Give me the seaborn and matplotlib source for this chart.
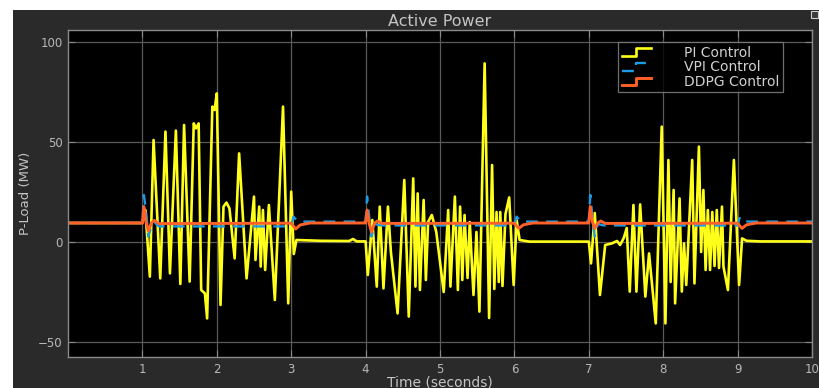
import matplotlib
matplotlib.use("Agg")
import matplotlib.pyplot as plt
import seaborn as sns
from matplotlib.lines import Line2D
from matplotlib.legend_handler import HandlerLine2D
from matplotlib.patches import Rectangle

# Active power at the load for three controllers (time in s, power in MW)
pi_t = [0.00, 1.00, 1.04, 1.10, 1.15, 1.24, 1.31, 1.37, 1.45, 1.51, 1.56, 1.635,
        1.69, 1.72, 1.756, 1.79, 1.84, 1.87, 1.94, 1.97, 2.00, 2.05, 2.09, 2.13,
        2.17, 2.24, 2.30, 2.40, 2.50, 2.52, 2.57, 2.59, 2.62, 2.65, 2.70, 2.78,
        2.89, 2.96, 3.00, 3.035, 3.07, 3.40, 3.78, 3.83, 3.88, 4.00,
        4.03, 4.09, 4.15, 4.19, 4.24, 4.30, 4.34, 4.43, 4.52, 4.58, 4.64, 4.67,
        4.70, 4.73, 4.78, 4.81, 4.84, 4.89, 4.95, 5.05, 5.11, 5.14, 5.20, 5.24,
        5.27, 5.30, 5.33, 5.37, 5.40, 5.45, 5.49, 5.53, 5.60, 5.66, 5.70, 5.73,
        5.76, 5.79, 5.81, 5.84, 5.88, 5.93, 5.99, 6.03, 6.07, 6.20, 6.60, 7.00,
        7.03, 7.08, 7.15, 7.22, 7.31, 7.38, 7.42, 7.47, 7.51, 7.55, 7.60, 7.64,
        7.69, 7.76, 7.81, 7.90, 7.98, 8.03, 8.07, 8.10, 8.14, 8.16, 8.22, 8.25,
        8.28, 8.31, 8.39, 8.42, 8.48, 8.51, 8.54, 8.57, 8.60, 8.63, 8.66, 8.69,
        8.72, 8.75, 8.79, 8.81, 8.87, 8.95, 9.02, 9.06, 9.12, 9.30, 10.00]
pi_p = [9.5, 9.5, 16.0, -17.3, 51.0, -18.2, 55.2, -15.7, 55.7, -21.0, 58.5, -19.8,
        59.3, 56.8, 59.3, -24.0, -25.7, -38.2, 67.7, 66.0, 74.3, -31.5, 17.7, 19.7,
        16.8, -8.2, 44.3, -18.2, 22.7, -9.0, 17.7, -12.3, 16.0, -14.0, 18.5, -29.0,
        67.7, -30.7, 25.2, -6.0, 1.0, 0.6, 0.5, 1.5, 0.3, 0.3,
        -16.5, 11.0, -22.3, 17.7, -23.2, 17.7, -5.0, -35.7, 31.0, -37.3, 31.8, -22.3,
        24.3, -24.0, 21.0, -19.0, 10.0, 13.5, 5.0, -25.0, 16.0, -22.3, 22.7, -24.0,
        17.7, -19.0, 13.5, -18.0, 10.0, -26.5, 5.0, -34.8, 89.3, -38.0, 38.5, -23.5,
        15.0, -20.0, 15.0, -22.0, 14.0, 22.3, -21.5, 11.0, 1.0, 0.2, 0.2, 0.2,
        -10.7, 14.5, -26.5, -1.5, -0.7, 0.5, -1.5, 2.0, 7.0, -24.8, 18.5, -24.8,
        18.8, -27.3, -5.7, -40.7, 57.7, -40.7, 41.0, -20.0, 26.0, -30.7, 21.8, -24.8,
        -0.7, -21.5, 41.0, -20.7, 47.7, -5.0, 26.0, -14.0, 16.0, -14.0, 15.0, -12.0,
        16.0, -13.0, 17.7, -12.3, -24.0, 41.0, -21.5, 1.8, 0.6, 0.3, 0.3]

vpi_t = [0.00, 1.00, 1.02, 1.05, 1.08, 1.12, 1.16, 1.22, 3.00, 3.03, 3.08, 3.15,
         4.00, 4.02, 4.05, 4.08, 4.12, 4.20, 6.00, 6.03, 6.08, 6.15, 7.00, 7.02,
         7.05, 7.08, 7.12, 7.20, 9.00, 9.03, 9.08, 9.15, 10.00]
vpi_p = [9.5, 9.5, 23.5, 15.0, 2.7, 8.0, 10.0, 7.8, 7.8, 12.7, 10.5, 10.2,
         10.2, 22.7, 12.0, 2.7, 9.0, 8.3, 8.3, 12.7, 10.5, 10.2, 10.2, 23.5,
         12.0, 2.7, 9.0, 8.3, 8.3, 12.5, 10.5, 10.2, 10.2]

ddpg_t = [0.00, 1.00, 1.02, 1.05, 1.08, 1.12, 1.16, 1.22, 3.00, 3.03, 3.06, 3.12,
          3.25, 4.00, 4.02, 4.05, 4.08, 4.12, 4.16, 4.22, 6.00, 6.03, 6.06, 6.12,
          6.25, 7.00, 7.02, 7.05, 7.08, 7.12, 7.16, 7.22, 9.00, 9.03, 9.06, 9.12,
          9.25, 10.00]
ddpg_p = [9.5, 9.5, 17.7, 10.0, 5.5, 9.5, 10.8, 9.2, 9.4, 8.0, 6.5, 8.5,
          9.5, 9.5, 16.0, 9.0, 5.0, 9.5, 10.5, 9.3, 9.4, 8.0, 6.8, 8.6,
          9.5, 9.5, 17.7, 10.0, 6.8, 9.5, 10.5, 9.3, 9.4, 8.0, 6.8, 8.6,
          9.5, 9.5]

series = ["PI Control", "VPI Control", "DDPG Control"]
colors = ["#ffff1a", "#1e9be6", "#ff6128"]
x_ticks = [1, 2, 3, 4, 5, 6, 7, 8, 9, 10]
y_ticks = [-50, 0, 50, 100]

FONT = ["DejaVu Sans"]
TXT = "#c4c4c4"


class StepLine(HandlerLine2D):
    """Legend key drawn as a small rising step."""

    def create_artists(self, legend, orig_handle, xdescent, ydescent,
                       width, height, fontsize, trans):
        x0 = -xdescent
        x1 = x0 + width
        xm = x0 + width * 0.5
        ylo = -ydescent + height * 0.05
        yhi = -ydescent + height * 0.85
        line = Line2D([x0, xm, xm, x1], [ylo, ylo, yhi, yhi])
        self.update_prop(line, orig_handle, legend)
        line.set_transform(trans)
        return [line]


fig = plt.figure(figsize=(8.19, 3.88), dpi=100, facecolor="white")
fig.patches.append(Rectangle((13 / 819, 0), 1 - 13 / 819, 1 - 10 / 388,
                             transform=fig.transFigure, facecolor="#2a2a2a",
                             edgecolor="none", zorder=-10))
fig.patches.append(Rectangle((811 / 819, 1 - 18 / 388), 7 / 819, 7 / 388,
                             transform=fig.transFigure, facecolor="#3a3a3a",
                             edgecolor="#d0d0d0", lw=0.8, zorder=5))

ax = fig.add_axes([68 / 819, 1 - 357 / 388, (812 - 68) / 819, (357 - 30) / 388])
ax.set_facecolor("black")

sns.lineplot(x=pi_t, y=pi_p, ax=ax, color=colors[0], lw=1.9,
             estimator=None, sort=False, legend=False)
sns.lineplot(x=vpi_t, y=vpi_p, ax=ax, color=colors[1], lw=1.7,
             estimator=None, sort=False, legend=False)
ax.lines[-1].set_dashes((5, 3.5))
sns.lineplot(x=ddpg_t, y=ddpg_p, ax=ax, color=colors[2], lw=2.1,
             estimator=None, sort=False, legend=False)

ax.set_xlim(0, 10)
ax.set_ylim(-57.5, 106)
ax.set_xticks(x_ticks)
ax.set_xticklabels([str(v) for v in x_ticks])
ax.set_yticks(y_ticks)
ax.grid(True, color="#5a5a5a", lw=0.9)
ax.set_axisbelow(True)
for s in ax.spines.values():
    s.set_color("#8a8a8a")
    s.set_linewidth(1.0)
ax.tick_params(direction="in", length=5, color="#8a8a8a", labelcolor="#b8b8b8",
               labelsize=8.5, top=True, right=True, pad=4)
for lbl in ax.get_xticklabels() + ax.get_yticklabels():
    lbl.set_family(FONT)

ax.set_title("Active Power", color=TXT, fontsize=11.5, pad=3, family=FONT)
ax.set_xlabel("Time (seconds)", color=TXT, fontsize=10, labelpad=0, family=FONT)
ax.set_ylabel("P-Load (MW)", color=TXT, fontsize=9.5, labelpad=4, family=FONT)

handles = ax.lines[:3]
leg = ax.legend(handles, series, loc="upper right",
                bbox_to_anchor=(0.961, 0.963), borderaxespad=0,
                handler_map={h: StepLine() for h in handles},
                handlelength=2.1, handletextpad=2.4, labelspacing=0.05,
                borderpad=0.25, frameon=True, fancybox=False,
                prop={"family": FONT, "size": 10})
leg.get_frame().set_facecolor("black")
leg.get_frame().set_edgecolor("#8a8a8a")
leg.get_frame().set_linewidth(0.9)
for t in leg.get_texts():
    t.set_color("#d0d0d0")

fig.savefig("out.png", dpi=100, facecolor=fig.get_facecolor())
